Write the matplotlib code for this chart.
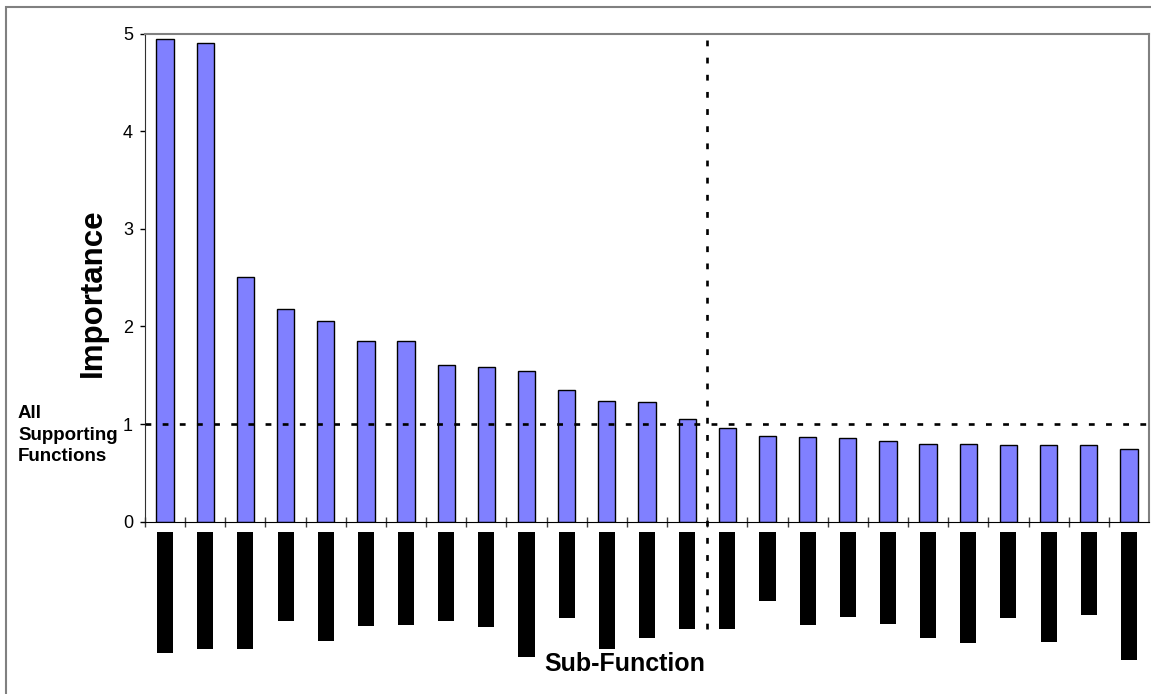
import matplotlib
matplotlib.use("Agg")
import matplotlib.pyplot as plt
from matplotlib.patches import Rectangle

plt.rcParams['font.family'] = ['Liberation Sans', 'DejaVu Sans']

# importance per sub-function (sorted, labels redacted in the original)
importance = [4.94, 4.90, 2.51, 2.18, 2.06, 1.855, 1.855, 1.60, 1.585, 1.54,
              1.35, 1.236, 1.226, 1.047, 0.959, 0.88, 0.87, 0.86, 0.83, 0.80,
              0.80, 0.787, 0.787, 0.787, 0.743]
# length of the blacked-out category labels (pixels)
label_len = [121, 117, 117, 89, 109, 94, 93, 89, 95, 125,
             86, 117, 106, 97, 97, 69, 93, 85, 92, 106,
             111, 86, 110, 83, 128]
threshold = 1.0
n_primary = 14

W, H = 1151, 694
fig = plt.figure(figsize=(W / 100, H / 100), dpi=100)

ax = fig.add_axes([145 / W, (H - 521.7) / H, (1149 - 145) / W, (521.7 - 33.5) / H])
x = list(range(len(importance)))
ax.bar(x, importance, width=0.43, color='#8080FF', edgecolor='black', linewidth=1.0, zorder=2)

ax.set_xlim(-0.5, len(importance) - 0.5)
ax.set_ylim(0, 5)
ax.set_yticks([0, 1, 2, 3, 4, 5])
ax.set_xticks([i + 0.5 for i in range(len(importance) - 1)] + [-0.5])
ax.set_xticklabels([])
ax.tick_params(axis='y', direction='out', length=3.6, width=1, labelsize=13, pad=5)
ax.tick_params(axis='x', direction='inout', length=6.5, width=1, color='#404040')
for s in ['top', 'right']:
    ax.spines[s].set_color('#808080')
    ax.spines[s].set_linewidth(1.5)
ax.spines['left'].set_color('#303030')
ax.spines['bottom'].set_color('black')

# threshold and split lines
dash = (0, (2.2, 4.3))
ax.plot([-0.5, len(importance) - 0.5], [threshold, threshold], color='black',
        lw=1.9, linestyle=dash, zorder=3)
ax.plot([n_primary - 0.5, n_primary - 0.5], [-1.1, 5.03], color='black',
        lw=1.9, linestyle=dash, clip_on=False, zorder=3)

ax.set_ylabel('Importance', fontsize=22.5, fontweight='bold', va='center')
ax.yaxis.set_label_coords(-0.052, 0.4695)
fig.text(18 / W, 1 - 435 / H, 'All\nSupporting\nFunctions', fontsize=13.5,
         fontweight='bold', ha='left', va='center', linespacing=1.35)

# redacted labels underneath
lab = fig.add_axes([145 / W, (H - 680) / H, (1149 - 145) / W, (680 - 532.3) / H])
lab.bar(x, label_len, width=0.40, color='black')
lab.set_xlim(-0.5, len(importance) - 0.5)
lab.set_ylim(680 - 532.3, 0)
lab.axis('off')
lab.patch.set_alpha(0)

fig.text((543 + 707) / 2 / W, 1 - 664 / H, 'Sub-Function', fontsize=18,
         fontweight='bold', ha='center', va='center')

fig.patches.append(Rectangle((6 / W, -0.1), 2, 1.1 - 6.7 / H, transform=fig.transFigure,
                             fill=False, edgecolor='#808080', linewidth=1.5))

fig.savefig('out.png', dpi=100)
